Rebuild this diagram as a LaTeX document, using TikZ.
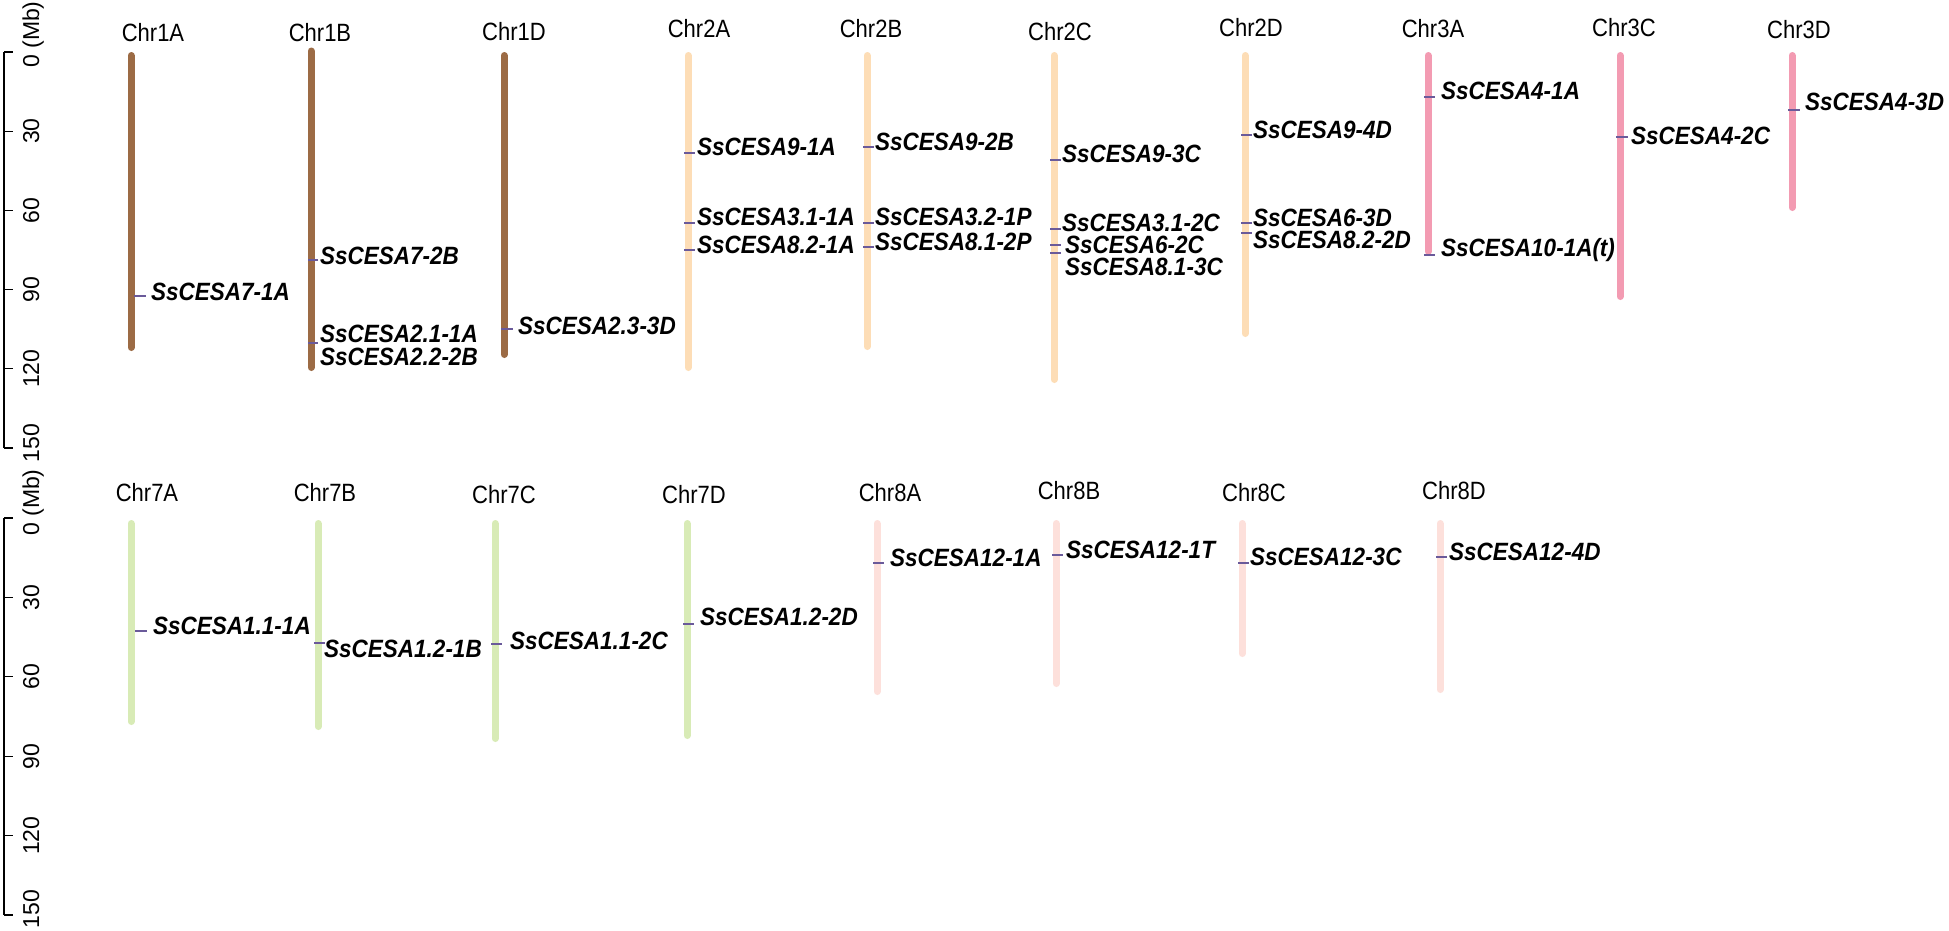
\documentclass[tikz,border=0pt]{standalone}
\usepackage{fontspec}
\setmainfont{Liberation Sans}
\newfontfamily\chrfont[FakeStretch=0.88]{Liberation Sans}
\newfontfamily\genefont[FakeStretch=0.9]{Liberation Sans}
\newfontfamily\axfont{Liberation Sans}
\definecolor{cone}{HTML}{9C6B45}
\definecolor{ctwo}{HTML}{FDDDB6}
\definecolor{cthree}{HTML}{F39BB2}
\definecolor{cseven}{HTML}{D8EBB6}
\definecolor{ceight}{HTML}{FDE0DB}
\definecolor{tickc}{HTML}{6A5A9A}
\tikzset{
  chrlab/.style={font=\chrfont\fontsize{25}{27}\selectfont, inner sep=0pt, text height=17.9pt, text depth=0pt},
  gene/.style={font=\genefont\fontsize{25}{27}\selectfont\bfseries\itshape, inner sep=0pt, anchor=west, text height=17.9pt, text depth=0pt},
  chrbar/.style={line width=7pt, line cap=round},
  genetick/.style={draw=tickc, line width=1.6pt},
  axlab/.style={font=\axfont\fontsize{23}{25}\selectfont, rotate=90, inner sep=0pt, anchor=base},
  axline/.style={line width=1.1pt, black},
}
\begin{document}
\begin{tikzpicture}[x=1pt,y=-1pt]
\useasboundingbox[fill=white] (0,0) rectangle (1949,930);

% ---------- axes ----------
\draw[axline] (4,52) -- (4,448);
\foreach \v/\yy in {0/52,30/131.2,60/210.4,90/289.6,120/368.8,150/448}{
  \draw[axline] (4,\yy) -- (13,\yy);
}
\node[axlab, anchor=base west] (ta0) at (39,68) {0 (Mb)};
\foreach \v/\yy in {30/131.2,60/210.4,90/289.6,120/368.8,150/443}{
  \node[axlab] (ta\v) at (39,\yy) {\v};
}
\draw[axline] (4,518) -- (4,915);
\foreach \v/\yy in {0/518,30/597.4,60/676.8,90/756.2,120/835.6,150/915}{
  \draw[axline] (4,\yy) -- (13,\yy);
}
\node[axlab, anchor=base west] (ba0) at (39,536) {0 (Mb)};
\foreach \v/\yy in {30/597.4,60/676.8,90/756.2,120/835.6,150/909}{
  \node[axlab] (ba\v) at (39,\yy) {\v};
}

% ---------- top row ----------
% Chr1A
\draw[chrbar, cone] (131,55.5) -- (131,347.5);
\node[chrlab] (l1A) at (153,33) {Chr1A};
\draw[genetick] (134,296) -- (146,296);
\node[gene] (g71A) at (151,292) {SsCESA7-1A};
% Chr1B
\draw[chrbar, cone] (311,51) -- (311,367.5);
\node[chrlab] (l1B) at (320,33) {Chr1B};
\draw[genetick] (308,260) -- (318,260);
\node[gene] (g72B) at (320,256) {SsCESA7-2B};
\draw[genetick] (308,343) -- (318,343);
\node[gene] (g211A) at (320,334) {SsCESA2.1-1A};
\node[gene] (g222B) at (320,357) {SsCESA2.2-2B};
% Chr1D
\draw[chrbar, cone] (504,55.5) -- (504,354.5);
\node[chrlab] (l1D) at (514,32) {Chr1D};
\draw[genetick] (501,329) -- (513,329);
\node[gene] (g233D) at (518,326) {SsCESA2.3-3D};
% Chr2A
\draw[chrbar, ctwo] (688,55.5) -- (688,367.5);
\node[chrlab] (l2A) at (699,29) {Chr2A};
\draw[genetick] (684,153) -- (695,153);
\draw[genetick] (684,223) -- (695,223);
\draw[genetick] (684,250) -- (695,250);
\node[gene] (g91A) at (697,147) {SsCESA9-1A};
\node[gene] (g311A) at (697,217) {SsCESA3.1-1A};
\node[gene] (g821A) at (697,245) {SsCESA8.2-1A};
% Chr2B
\draw[chrbar, ctwo] (867,55.5) -- (867,346.5);
\node[chrlab] (l2B) at (871,29) {Chr2B};
\draw[genetick] (863,147) -- (874,147);
\draw[genetick] (863,223) -- (874,223);
\draw[genetick] (863,247) -- (874,247);
\node[gene] (g92B) at (875,142) {SsCESA9-2B};
\node[gene] (g321P) at (875,217) {SsCESA3.2-1P};
\node[gene] (g812P) at (875,242) {SsCESA8.1-2P};
% Chr2C
\draw[chrbar, ctwo] (1054,55.5) -- (1054,379.5);
\node[chrlab] (l2C) at (1060,32) {Chr2C};
\draw[genetick] (1050,160) -- (1061,160);
\draw[genetick] (1050,229) -- (1061,229);
\draw[genetick] (1050,245) -- (1061,245);
\draw[genetick] (1050,253) -- (1061,253);
\node[gene] (g93C) at (1062,154) {SsCESA9-3C};
\node[gene] (g312C) at (1062,223) {SsCESA3.1-2C};
\node[gene] (g62C) at (1065,245) {SsCESA6-2C};
\node[gene] (g813C) at (1065,267) {SsCESA8.1-3C};
% Chr2D
\draw[chrbar, ctwo] (1245,55.5) -- (1245,333.5);
\node[chrlab] (l2D) at (1251,28) {Chr2D};
\draw[genetick] (1241,135) -- (1252,135);
\draw[genetick] (1241,223) -- (1252,223);
\draw[genetick] (1241,233) -- (1252,233);
\node[gene] (g94D) at (1253,130) {SsCESA9-4D};
\node[gene] (g63D) at (1253,218) {SsCESA6-3D};
\node[gene] (g822D) at (1253,240) {SsCESA8.2-2D};
% Chr3A
\draw[chrbar, cthree] (1428,55.5) -- (1428,251.5);
\node[chrlab] (l3A) at (1433,29) {Chr3A};
\draw[genetick] (1424,97) -- (1435,97);
\draw[genetick] (1424,255) -- (1435,255);
\node[gene] (g41A) at (1441,91) {SsCESA4-1A};
\node[gene] (g101A) at (1441,248) {SsCESA10-1A(t)};
% Chr3C
\draw[chrbar, cthree] (1620,55.5) -- (1620,296.5);
\node[chrlab] (l3C) at (1624,28) {Chr3C};
\draw[genetick] (1616,137) -- (1628,137);
\node[gene] (g42C) at (1631,136) {SsCESA4-2C};
% Chr3D
\draw[chrbar, cthree] (1792,55.5) -- (1792,207.5);
\node[chrlab] (l3D) at (1799,30) {Chr3D};
\draw[genetick] (1788,110) -- (1800,110);
\node[gene] (g43D) at (1805,102) {SsCESA4-3D};

% ---------- bottom row ----------
% Chr7A
\draw[chrbar, cseven] (131,523.5) -- (131,721.5);
\node[chrlab] (l7A) at (147,493) {Chr7A};
\draw[genetick] (135,631) -- (147,631);
\node[gene] (g111A) at (153,626) {SsCESA1.1-1A};
% Chr7B
\draw[chrbar, cseven] (318,523.5) -- (318,726.5);
\node[chrlab] (l7B) at (325,493) {Chr7B};
\draw[genetick] (314,643) -- (325,643);
\node[gene] (g121B) at (324,649) {SsCESA1.2-1B};
% Chr7C
\draw[chrbar, cseven] (495,523.5) -- (495,738.5);
\node[chrlab] (l7C) at (504,495) {Chr7C};
\draw[genetick] (491,644) -- (502,644);
\node[gene] (g112C) at (510,641) {SsCESA1.1-2C};
% Chr7D
\draw[chrbar, cseven] (687,523.5) -- (687,735.5);
\node[chrlab] (l7D) at (694,495) {Chr7D};
\draw[genetick] (683,624) -- (694,624);
\node[gene] (g122D) at (700,617) {SsCESA1.2-2D};
% Chr8A
\draw[chrbar, ceight] (877,523.5) -- (877,691.5);
\node[chrlab] (l8A) at (890,493) {Chr8A};
\draw[genetick] (873,563) -- (884,563);
\node[gene] (g121A) at (890,558) {SsCESA12-1A};
% Chr8B
\draw[chrbar, ceight] (1056,523.5) -- (1056,683.5);
\node[chrlab] (l8B) at (1069,491) {Chr8B};
\draw[genetick] (1052,555) -- (1063,555);
\node[gene] (g121T) at (1066,550) {SsCESA12-1T};
% Chr8C
\draw[chrbar, ceight] (1242,523.5) -- (1242,653.5);
\node[chrlab] (l8C) at (1254,493) {Chr8C};
\draw[genetick] (1238,563) -- (1249,563);
\node[gene] (g123C) at (1250,557) {SsCESA12-3C};
% Chr8D
\draw[chrbar, ceight] (1440,523.5) -- (1440,689.5);
\node[chrlab] (l8D) at (1454,491) {Chr8D};
\draw[genetick] (1436,557) -- (1447,557);
\node[gene] (g124D) at (1449,552) {SsCESA12-4D};
\end{tikzpicture}
\end{document}
